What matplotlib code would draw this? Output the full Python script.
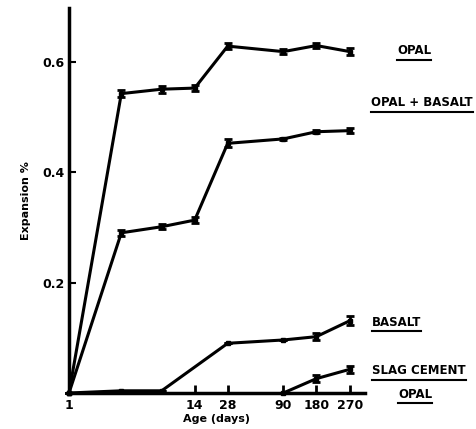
import matplotlib
matplotlib.use('Agg')
import matplotlib.pyplot as plt
from matplotlib.lines import Line2D

# age in days (plot positions on a log axis; last reading sits at ~1 year on the axis)
age_days = [1, 3, 7, 14, 28, 90, 180, 365]
tick_days = [1, 14, 28, 90, 180, 365]
tick_labels = ['1', '14', '28', '90', '180', '270']

opal = [0, 0.542, 0.550, 0.552, 0.628, 0.618, 0.629, 0.618]
opal_err = [0, 0.006, 0.006, 0.006, 0.006, 0.005, 0.005, 0.006]

opal_basalt = [0, 0.290, 0.301, 0.313, 0.452, 0.460, 0.473, 0.475]
opal_basalt_err = [0, 0.005, 0.005, 0.005, 0.007, 0.002, 0.003, 0.004]

basalt_days = [1, 3, 7, 28, 90, 180, 365]
basalt = [0, 0.004, 0.004, 0.090, 0.096, 0.102, 0.131]
basalt_err = [0, 0, 0, 0, 0, 0.006, 0.008]

slag_days = [90, 180, 365]
slag_opal = [0, 0.026, 0.043]
slag_err = [0, 0.006, 0.006]

W, H = 477, 429
fig = plt.figure(figsize=(W / 100, H / 100), dpi=100)
ax = fig.add_axes([69 / W, 1 - 393 / H, (365 - 69) / W, (393 - 8) / H])

series = [(age_days, opal, opal_err), (age_days, opal_basalt, opal_basalt_err),
          (basalt_days, basalt, basalt_err), (slag_days, slag_opal, slag_err)]
for x, y, e in series:
    ax.errorbar(x, y, yerr=e, color='black', lw=2.2, marker='s', ms=2.5,
                elinewidth=2, capsize=3, capthick=2, clip_on=False, zorder=3)

ax.set_xscale('log')
ax.set_xlim(1, 500)
ax.set_ylim(0, 0.697)
ax.minorticks_off()
ax.set_xticks(tick_days)
ax.set_xticklabels(tick_labels)
ax.set_yticks([0.2, 0.4, 0.6])
ax.set_yticklabels(['0.2', '0.4', '0.6'])

for s in ['top', 'right']:
    ax.spines[s].set_visible(False)
for s in ['left', 'bottom']:
    ax.spines[s].set_linewidth(2.5)

ax.tick_params(axis='x', direction='in', length=6, width=2, pad=4)
ax.tick_params(axis='y', direction='in', length=5, width=1.5, pad=3)
for lab in ax.get_xticklabels() + ax.get_yticklabels():
    lab.set_fontweight('bold')
    lab.set_fontsize(9)

ax.set_ylabel('Expansion %', fontsize=8, fontweight='bold', labelpad=8)
ax.set_xlabel('Age (days)', fontsize=8, fontweight='bold', labelpad=2)

# series names on the right, underlined
names = [('OPAL', 397, 51), ('OPAL + BASALT', 371, 103), ('BASALT', 372, 322),
         ('SLAG CEMENT', 372, 371), ('OPAL', 398, 394)]
texts = []
for name, px, py in names:
    t = fig.text(px / W, 1 - py / H, name, fontsize=8.5, fontweight='bold',
                 ha='left', va='center')
    texts.append(t)

fig.canvas.draw()
r = fig.canvas.get_renderer()
for t in texts:
    bb = t.get_window_extent(r)
    y = (bb.y0 - 2) / H
    fig.add_artist(Line2D([bb.x0 / W, bb.x1 / W], [y, y], transform=fig.transFigure,
                          color='black', lw=1.5))

fig.savefig('out.png', dpi=100)
